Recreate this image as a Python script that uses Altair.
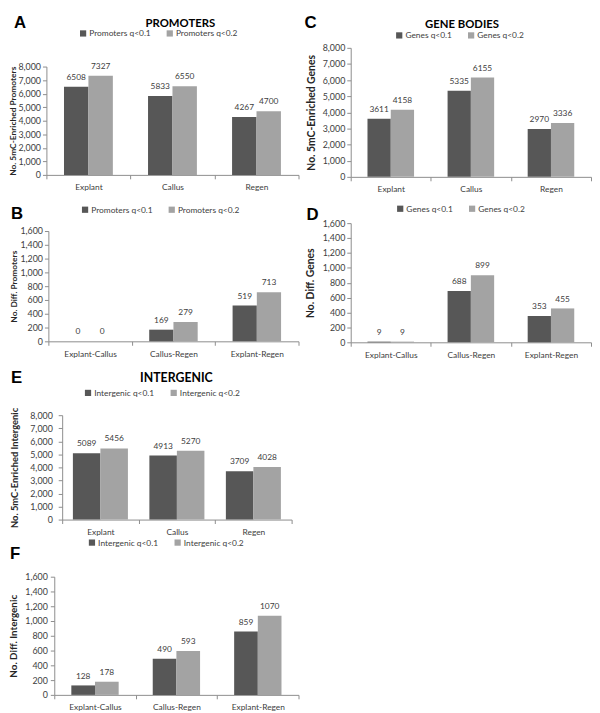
import altair as alt
import pandas as pd

# ---------------- data ----------------
cats_abs = ["Explant", "Callus", "Regen"]
cats_diff = ["Explant-Callus", "Callus-Regen", "Explant-Regen"]

promoters_q01 = [6508, 5833, 4267]
promoters_q02 = [7327, 6550, 4700]
promoters_diff_q01 = [0, 169, 519]
promoters_diff_q02 = [0, 279, 713]

genes_q01 = [3611, 5335, 2970]
genes_q02 = [4158, 6155, 3336]
genes_diff_q01 = [9, 688, 353]
genes_diff_q02 = [9, 899, 455]

intergenic_q01 = [5089, 4913, 3709]
intergenic_q02 = [5456, 5270, 4028]
intergenic_diff_q01 = [128, 490, 859]
intergenic_diff_q02 = [178, 593, 1070]

y_ticks_abs = [0, 1000, 2000, 3000, 4000, 5000, 6000, 7000, 8000]
y_ticks_diff = [0, 200, 400, 600, 800, 1000, 1200, 1400, 1600]

DARK = "#575757"
LIGHT = "#a3a3a3"
FONT = "Lato"
TXT = "#404040"


def panel(cats, s1, s2, v1, v2, yticks, ytitle, ytitle_size, title_pad,
          ylabel_pad, width, height, xo_pad, letter, letter_xy, legend_xy,
          title=None, title_xy=None, title_size=11.5, extra_bottom=0):
    df = pd.DataFrame({"cat": cats * 2,
                       "series": [s1] * len(cats) + [s2] * len(cats),
                       "val": v1 + v2})
    base = alt.Chart(df)
    x = alt.X("cat:N", sort=cats,
              scale=alt.Scale(paddingInner=0, paddingOuter=0),
              axis=alt.Axis(title=None, labelAngle=0, tickBand="extent",
                            labelPadding=4, labelFontSize=8.5))
    xo = alt.XOffset("series:N", sort=[s1, s2],
                     scale=alt.Scale(paddingInner=0, paddingOuter=xo_pad))
    y = alt.Y("val:Q", scale=alt.Scale(domain=[yticks[0], yticks[-1]], nice=False),
              axis=alt.Axis(values=yticks, format=",d", labelFontSize=9,
                            labelPadding=ylabel_pad,
                            title=ytitle, titleFontSize=ytitle_size,
                            titleFontWeight="bold", titleColor="#262626",
                            titlePadding=title_pad))
    bars = base.mark_bar().encode(
        x=x, xOffset=xo, y=y,
        color=alt.Color("series:N", sort=[s1, s2],
                        scale=alt.Scale(domain=[s1, s2], range=[DARK, LIGHT]),
                        legend=alt.Legend(title=None, orient="none",
                                          legendX=legend_xy[0], legendY=legend_xy[1],
                                          direction="horizontal", symbolType="square",
                                          symbolSize=40, symbolStrokeWidth=0,
                                          labelFontSize=8.5, labelFont=FONT,
                                          labelColor=TXT, columnPadding=15,
                                          labelOffset=2)))
    labels = base.mark_text(baseline="bottom", dy=-5, fontSize=8.5, font=FONT,
                            color=TXT).encode(
        x=x, xOffset=xo, y=y, text=alt.Text("val:Q", format="d"))
    layers = [bars, labels]
    let = alt.Chart(pd.DataFrame({"t": [letter]})).mark_text(
        font="Liberation Sans", fontWeight="bold", fontSize=17, align="left",
        baseline="middle", color="black").encode(
        x=alt.value(letter_xy[0]), y=alt.value(letter_xy[1]), text="t:N")
    layers.append(let)
    if title:
        tt = alt.Chart(pd.DataFrame({"t": [title]})).mark_text(
            font=FONT, fontWeight="bold", fontSize=title_size, align="center",
            baseline="middle", color="black").encode(
            x=alt.value(title_xy[0]), y=alt.value(title_xy[1]), text="t:N")
        layers.append(tt)
    if extra_bottom:
        # invisible rule that only reserves vertical room below the panel
        pad = alt.Chart(pd.DataFrame({"t": [0]})).mark_rule(opacity=0).encode(
            x=alt.value(10), y=alt.value(height),
            y2=alt.value(height + 17 + extra_bottom))
        layers.append(pad)
    return alt.layer(*layers).properties(width=width, height=height)


A = panel(cats_abs, "Promoters q<0.1", "Promoters q<0.2", promoters_q01, promoters_q02,
          y_ticks_abs, "No. 5mC-Enriched Promoters", 8.5, 0, 2, 256, 110, 0.72,
          "A", (-33, -44), (33, -38), "PROMOTERS", (136, -43), 11.5, extra_bottom=13.5)
B = panel(cats_diff, "Promoters q<0.1", "Promoters q<0.2", promoters_diff_q01,
          promoters_diff_q02, y_ticks_diff, "No. Diff. Promoters", 8.5, 1.5, 2,
          254, 112, 0.72, "B", (-38, -17), (33, -26), extra_bottom=10.5)
C = panel(cats_abs, "Genes q<0.1", "Genes q<0.2", genes_q01, genes_q02,
          y_ticks_abs, "No. 5mC-Enriched Genes", 10.5, 6, 2, 244, 131, 0.72,
          "C", (-47, -25), (45, -17), "GENE BODIES", (113, -23), 11.5,
          extra_bottom=10.5)
D = panel(cats_diff, "Genes q<0.1", "Genes q<0.2", genes_diff_q01, genes_diff_q02,
          y_ticks_diff, "No. Diff. Genes", 10.5, 7, 2, 244, 121, 0.72,
          "D", (-45, -8), (46, -19))
E = panel(cats_abs, "Intergenic q<0.1", "Intergenic q<0.2", intergenic_q01,
          intergenic_q02, y_ticks_abs, "No. 5mC-Enriched Intergenic", 9.5, 10.5, 6,
          233, 106, 0.39, "E", (-52, -38), (22, -27), "INTERGENIC", (116, -38), 12.5,
          extra_bottom=2)
F = panel(cats_diff, "Intergenic q<0.1", "Intergenic q<0.2", intergenic_diff_q01,
          intergenic_diff_q02, y_ticks_diff, "No. Diff. Intergenic", 10, 6, 3,
          248, 120, 0.72, "F", (-45, -23), (34, -39))


def spacer():
    # 1x1 invisible view used only as a layout anchor
    return alt.Chart(pd.DataFrame({"a": [0]})).mark_rule(
        opacity=0, strokeWidth=0.5).encode(
        x=alt.value(0.5), y=alt.value(0), y2=alt.value(1)
    ).properties(width=1, height=1)


def ind(c):
    return c.resolve_scale(color="independent", xOffset="independent")


def row(p):
    return ind(alt.hconcat(spacer(), p, spacing=0))


left = ind(alt.vconcat(spacer(), row(A), row(B), row(E), row(F), spacing=0))
right = ind(alt.vconcat(spacer(), C, D, spacing=0))

chart = ind(alt.hconcat(left, right, spacing=5)).properties(
    padding=0,
    background="white"
).configure_view(stroke=None).configure_axis(
    grid=False, domainColor="#8c8c8c", tickColor="#8c8c8c", tickSize=4,
    labelColor=TXT, labelFont=FONT, titleFont=FONT
)

chart.save("out.html", embed_options={"renderer": "svg", "actions": False})
